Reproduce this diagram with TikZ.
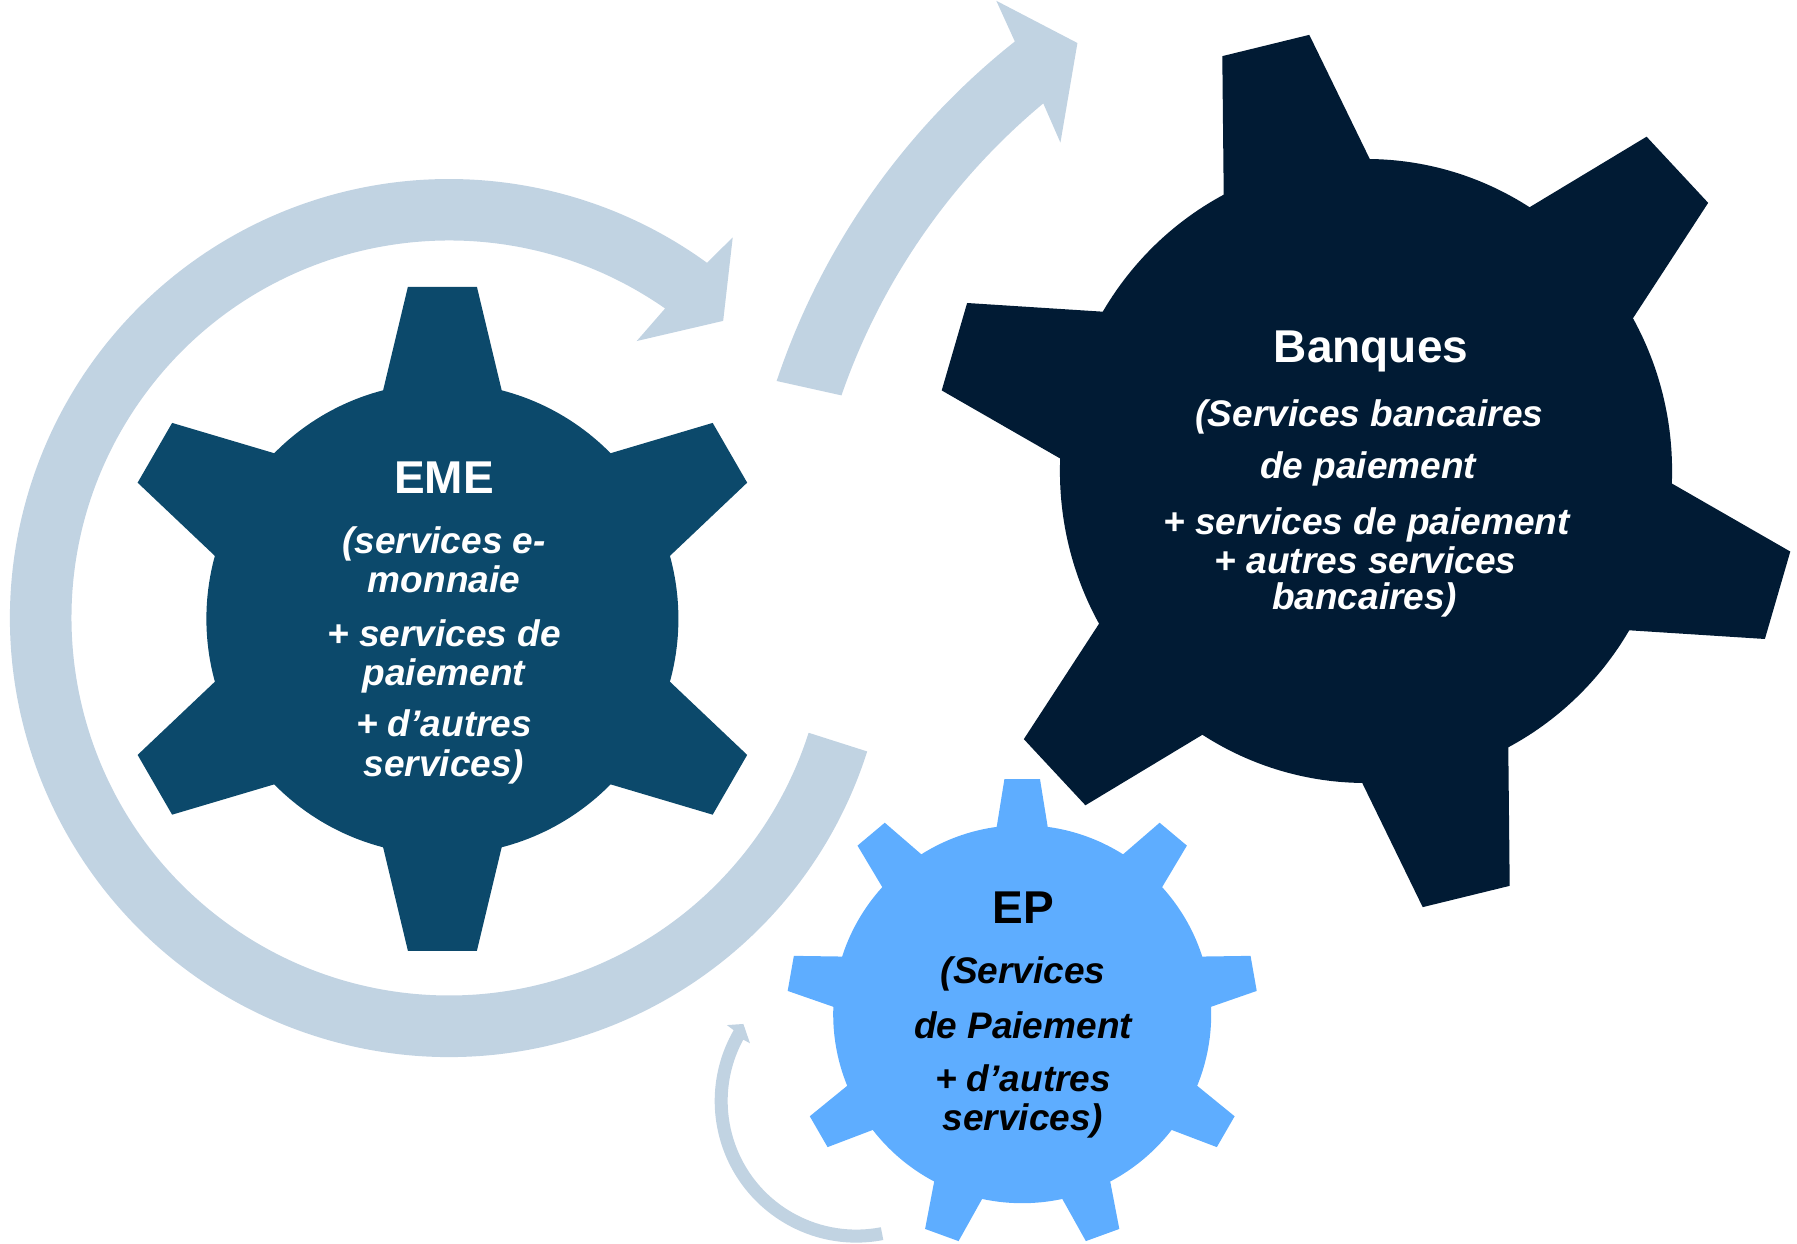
\documentclass[tikz,border=0pt]{standalone}
\usepackage{fontspec}
\setmainfont{Liberation Sans}
\definecolor{arrowblue}{RGB}{193,211,226}
\definecolor{emeblue}{RGB}{12,73,107}
\definecolor{bankblue}{RGB}{1,27,52}
\definecolor{epblue}{RGB}{94,173,255}

% Cogwheel: #1 centre, #2 teeth, #3 first tooth angle, #4 body radius,
% #5 tip distance, #6 tip half-width, #7 root distance, #8 root half-width, #9 colour
\newcommand\cogwheel[9]{%
  \fill[#9] (#1) circle[radius=#4];
  \foreach \k in {1,...,#2}{
    \fill[#9, shift={(#1)}, rotate={#3+360/#2*(\k-1)}]
      (#7,-#8) -- (#5,-#6) -- (#5,#6) -- (#7,#8) -- cycle;
  }
}

\begin{document}
\begin{tikzpicture}[x=1pt,y=1pt,
  txtline/.style={anchor=base, inner sep=0pt, font=\fontsize{37}{37}\selectfont\bfseries\itshape},
  gtitle/.style={anchor=base, inner sep=0pt, font=\fontsize{46}{46}\selectfont\bfseries},
  curvedarrow/.style={fill=arrowblue}]
\useasboundingbox (0,0) rectangle (1797,1243);
\clip (0,0) rectangle (1797,1243);

% centres
\coordinate (emeC) at (442.4,624.2);
\coordinate (banC) at (1366,772);
\coordinate (epC)  at (1022.2,228.8);
\coordinate (ringC) at (449,625);
\coordinate (bowC) at (1467,631);
\coordinate (loopC) at (856.3,142);

% ring arrow around EME
\begin{scope}[shift={(ringC)}]
  \fill[curvedarrow] (-17.7:439) arc[start angle=-17.7, end angle=-306, radius=439]
    -- (-306.7:474.8) -- (-312.7:404.3) -- (-304.13:334.6) -- (-304.92:377.5)
    arc[start angle=-304.92, end angle=-17.7, radius=377.5] -- cycle;
\end{scope}

% arrow towards the banks
\begin{scope}[shift={(bowC)}]
  \fill[curvedarrow] (161.5:728) arc[start angle=161.5, end angle=128.4, radius=728]
    -- (127.6:771.5) -- (124.4:689.6) -- (130.9:621) -- (129.8:662)
    arc[start angle=129.8, end angle=160.9, radius=662] -- cycle;
\end{scope}

% small arrow beside EP
\begin{scope}[shift={(loopC)}]
  \fill[curvedarrow] (-79:141.6) arc[start angle=-79, end angle=-210, radius=141.6]
    -- (-210.4:150) -- (-214.3:136.7) -- (-208.5:121) -- (-208.5:128.6)
    arc[start angle=-208.5, end angle=-79, radius=128.6] -- cycle;
\end{scope}

% gears
\cogwheel{emeC}{6}{30}{236}{332}{34.5}{200}{66.1}{emeblue}
\begin{scope}[shift={(banC)}, xscale=0.981]
  \coordinate (banO) at (0,0);
  \cogwheel{banO}{6}{103.5}{312}{437.6}{45.6}{270}{84}{bankblue}
\end{scope}
\cogwheel{epC}{9}{10}{189}{235}{17.8}{165}{29.1}{epblue}

% EME text
\begin{scope}[text=white]
  \node[gtitle] (emeT) at (444,749.7) {EME};
  \node[txtline] (eme1) at (444,689) {(services e-};
  \node[txtline] (eme2) at (444,650.5) {monnaie};
  \node[txtline] (eme3) at (444,596) {+ services de};
  \node[txtline] (eme4) at (444,557.7) {paiement};
  \node[txtline] (eme5) at (444,506.2) {+ d’autres};
  \node[txtline] (eme6) at (444,466.8) {services)};
\end{scope}

% Banques text
\begin{scope}[text=white, rotate around={-1.5:(1368,762)}]
  \node[gtitle] (banT) at (1368,880.7) {Banques};
  \node[txtline] (ban1) at (1368,816.7) {(Services bancaires};
  \node[txtline] (ban2) at (1368,764.4) {de paiement};
  \node[txtline] (ban3) at (1368,708.3) {+ services de paiement};
  \node[txtline] (ban4) at (1368,669.3) {+ autres services};
  \node[txtline] (ban5) at (1368,633.7) {bancaires)};
\end{scope}

% EP text
\begin{scope}[text=black]
  \node[gtitle] (epT) at (1023,319.7) {EP};
  \node[txtline] (ep1) at (1023,259.3) {(Services};
  \node[txtline] (ep2) at (1023,204.5) {de Paiement};
  \node[txtline] (ep3) at (1023,151.8) {+ d’autres};
  \node[txtline] (ep4) at (1023,112.3) {services)};
\end{scope}
\end{tikzpicture}
\end{document}
